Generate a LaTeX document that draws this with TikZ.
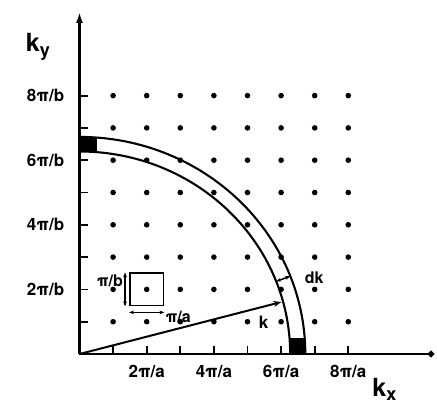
\documentclass[tikz,border=0pt]{standalone}
\usepackage{fontspec}
\setmainfont{TeX Gyre Heros}
\usetikzlibrary{arrows.meta,positioning}

\begin{document}
\begin{tikzpicture}[
  x=33.6pt, y=32.3pt,
  axis/.style={line width=2.8pt},
  tick/.style={line width=1.8pt},
  shell/.style={line width=2.1pt},
  lbl/.style={font=\fontsize{17}{19}\selectfont\bfseries, inner sep=0pt},
  small/.style={font=\fontsize{16}{18}\selectfont\bfseries, inner sep=0pt},
  big/.style={font=\fontsize{25}{27}\selectfont\bfseries, inner sep=0pt},
  lattice/.style={circle, fill, inner sep=0pt, minimum size=5.6pt},
  cell/.style={draw, line width=1.7pt, inner sep=0pt, minimum width=33.6pt, minimum height=32.3pt},
  dim/.style={line width=1.5pt, {Stealth[length=5pt]}-{Stealth[length=5pt]}},
  arr/.style={line width=2pt, -{Stealth[length=8pt,width=6pt]}}
]
\useasboundingbox (-2.366,-1.61) rectangle (10.64,10.96);

% axes
\coordinate (O) at (0,0);
\coordinate (ytop) at (0,10.59);
\coordinate (xend) at (10.55,0);
\draw[axis, -{Latex[length=11pt,width=7pt]}] (O) -- (ytop);
\draw[axis, -{Circle[length=6pt]}] (O) -- (xend);

% ticks and lattice points
\foreach \n in {1,...,8} {
  \draw[tick] (\n,0) -- ++(0,8pt);
  \draw[tick] (0,\n) -- ++(9pt,0);
  \foreach \m in {1,...,8}
    \node[lattice] (p\n\m) at (\n,\m) {};
}

% tick labels
\foreach \n in {2,4,6,8} {
  \node[lbl] (xl\n) at (\n,-0.55) {\n π/a};
  \node[lbl, anchor=east] (yl\n) at (-0.45,\n) {\n π/b};
}

% axis names
\node[big, anchor=base west] (ky) at (-1.6,9.35) {k\raisebox{-5pt}{\fontsize{18}{19}\selectfont y}};
\node[big, anchor=base west] (kx) at (8.71,-1.33) {k\raisebox{-4pt}{\fontsize{18}{19}\selectfont x}};

% shell between k and k+dk
\fill (0,6.27) rectangle (0.52,6.71);
\fill (6.27,0) rectangle (6.72,0.5);
\draw[shell] (6.27,0) arc (0:90:6.27);
\draw[shell] (6.72,0) arc (0:90:6.72);

% k vector
\coordinate (kend) at (15:6.22);
\draw[arr] (O) -- (kend);
\node[lbl] (klbl) at (5.48,0.99) {k};

% dk
\coordinate (dkin) at (21:6.27);
\coordinate (dkout) at (21:6.72);
\draw[dim] (dkin) -- (dkout);
\node[small, anchor=west] (dklbl) at (6.7,2.36) {dk};

% unit cell
\node[cell] (unit) at (2,2) {};
\draw[dim] ([xshift=-4pt]unit.north west) -- ([xshift=-4pt]unit.south west);
\draw[dim] ([yshift=-6pt]unit.south west) -- ([yshift=-6pt]unit.south east);
\node[small, anchor=east] (pib) at ([xshift=-6pt,yshift=-8pt]unit.north west) {π/b};
\node[small, anchor=west] (pia) at ([xshift=1pt,yshift=-10pt]unit.south east) {π/a};
\end{tikzpicture}
\end{document}
